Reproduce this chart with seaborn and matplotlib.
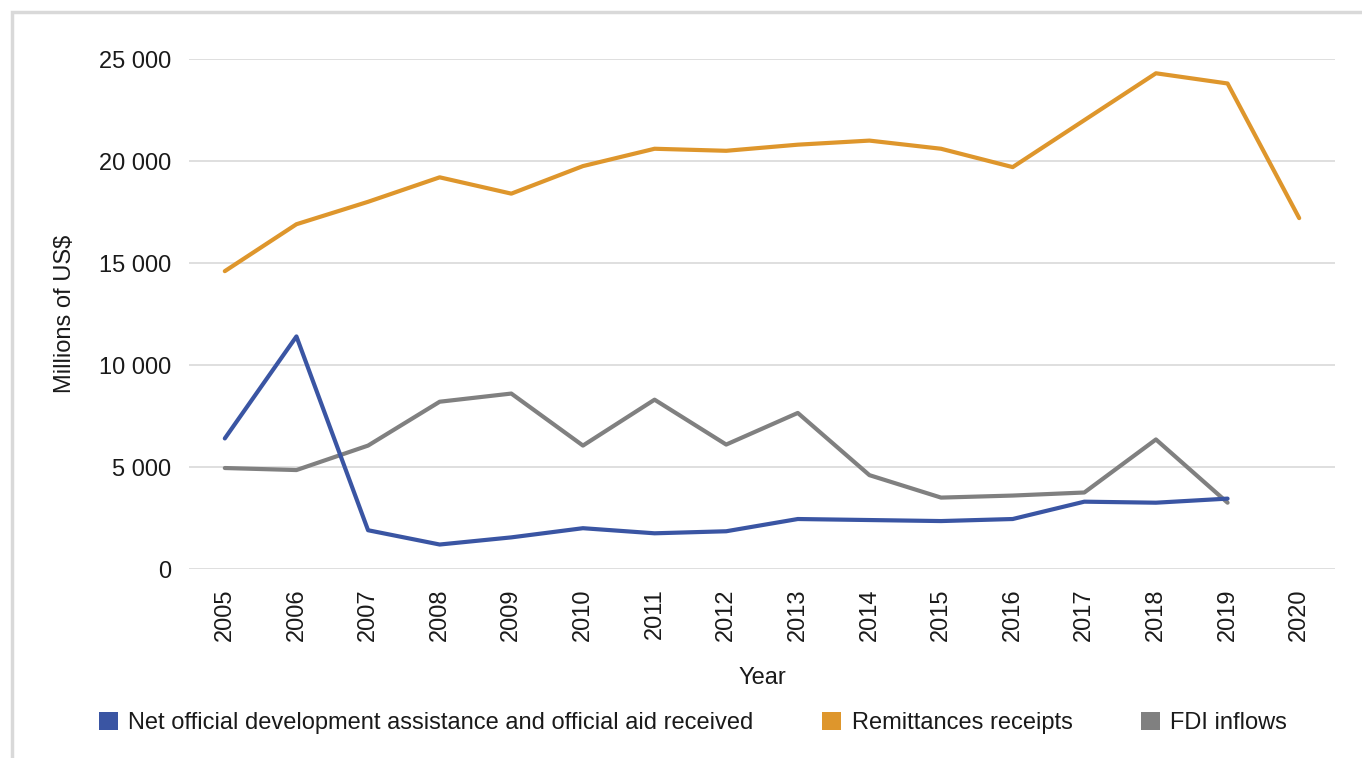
import numpy as np
import pandas as pd
import matplotlib
matplotlib.use("Agg")
import matplotlib.pyplot as plt
import matplotlib.patches as mpatches
import seaborn as sns

years = list(range(2005, 2021))
oda = [6400, 11400, 1900, 1200, 1550, 2000, 1750, 1850, 2450, 2400, 2350, 2450, 3300, 3250, 3450, None]
remittances = [14600, 16900, 18000, 19200, 18400, 19750, 20600, 20500, 20800, 21000, 20600, 19700, 22000, 24300, 23800, 17200]
fdi = [4950, 4850, 6050, 8200, 8600, 6050, 8300, 6100, 7650, 4600, 3500, 3600, 3750, 6350, 3250, None]

series_names = ["Net official development assistance and official aid received",
                "Remittances receipts", "FDI inflows"]
colors = ["#3A55A3", "#DE962C", "#808080"]
yticks = [0, 5000, 10000, 15000, 20000, 25000]
ytick_labels = ["0", "5 000", "10 000", "15 000", "20 000", "25 000"]

sns.set_theme(style="white")
plt.rcParams['font.family'] = ['Liberation Sans', 'DejaVu Sans']

rows = []
for name, vals in zip(series_names, [oda, remittances, fdi]):
    for y, v in zip(years, vals):
        if v is not None:
            rows.append({"Year": y, "Value": v, "Series": name})
df = pd.DataFrame(rows)

FS = 17
TXT = "#1a1a1a"

fig = plt.figure(figsize=(13.62, 7.58), dpi=100)
ax = fig.add_axes([189/1362, 1-569/758, (1335-189)/1362, (569-59)/758])

order_draw = [series_names[2], series_names[1], series_names[0]]
for name in order_draw:
    sub = df[df.Series == name]
    sns.lineplot(data=sub, x="Year", y="Value", ax=ax, color=colors[series_names.index(name)],
                 linewidth=3.0, legend=False, clip_on=False, solid_capstyle="round")

ax.set_xlim(2004.5, 2020.5)
ax.set_ylim(0, 25000)
ax.set_yticks(yticks)
ax.set_yticklabels(ytick_labels, fontsize=FS, color=TXT)
ax.set_xticks(years)
ax.set_xticklabels([str(y) for y in years], rotation=90, fontsize=FS, color=TXT)
ax.tick_params(axis="y", length=0, pad=13)
ax.tick_params(axis="x", length=0, pad=14)
ax.grid(axis="y", color="#d9d9d9", linewidth=1.2)
ax.set_axisbelow(True)
for s in ax.spines.values():
    s.set_visible(False)
ax.set_xlabel("Year", fontsize=FS, color=TXT, labelpad=19)
ax.set_ylabel("Millions of US$", fontsize=FS, color=TXT, labelpad=16)

fig.patches.append(mpatches.Rectangle((12/1362, -0.1), 1.2, 1-12/758+0.1, transform=fig.transFigure,
                                      fill=False, edgecolor="#d9d9d9", linewidth=2.5, zorder=0))

handles = [mpatches.Patch(facecolor=c, edgecolor="none") for c in colors]
fig.legend(handles, series_names, loc="center", bbox_to_anchor=(693/1362, 1-723/758), ncol=3,
           frameon=False, fontsize=FS, handlelength=0.8, handleheight=0.8, handletextpad=0.45,
           columnspacing=2.9, labelcolor=TXT)

fig.savefig("out.png", dpi=100)
